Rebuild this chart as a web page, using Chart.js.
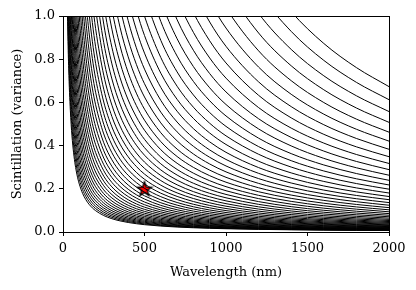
<!DOCTYPE html>
<html>
<head>
<meta charset="utf-8">
<script src="https://cdn.jsdelivr.net/npm/chart.js@4.4.1/dist/chart.umd.min.js"></script>
<style>
    html, body { margin: 0; padding: 0; background: #fff; }
    #wrap { width: 416px; height: 290px; }
</style>
</head>
<body>
<div id="wrap"><canvas id="scintChart" width="416" height="290"></canvas></div>
<script>
// wavelengths sampled along every curve (nm)
const wavelengths = [10, 15, 20, 25, 30, 35, 40, 50, 60, 70, 80, 90, 100, 120, 140, 160, 180, 200,
    250, 300, 350, 400, 450, 500, 600, 700, 800, 900, 1000, 1200, 1400, 1600, 1800, 2000];

// how high each curve sits compared with its value at 2000 nm
const relativeLevel = [483.7, 301.4, 215.4, 166.1, 134.2, 112.2, 95.97, 73.97, 59.80, 49.95, 42.75, 37.26,
    32.95, 26.64, 22.25, 19.04, 16.60, 14.68, 11.31, 9.146, 7.641, 6.539, 5.699, 5.040, 4.074, 3.403,
    2.913, 2.539, 2.245, 1.815, 1.516, 1.297, 1.131, 1.0];

// variance of each curve where it meets the right edge (2000 nm)
const levelsAt2000 = [0.00673, 0.00739, 0.00812, 0.00892, 0.00980, 0.01077, 0.01183, 0.01299, 0.01427, 0.01568,
    0.01723, 0.01892, 0.02079, 0.02283, 0.02508, 0.02756, 0.03027, 0.03325, 0.03653, 0.04013,
    0.04409, 0.04843, 0.05320, 0.05844, 0.06420, 0.07053, 0.07748, 0.08511, 0.09350, 0.1027,
    0.1128, 0.1240, 0.1362, 0.1496, 0.1643, 0.1805, 0.1983, 0.2178, 0.2393, 0.2629,
    0.2888, 0.3173, 0.3486, 0.3829, 0.4206, 0.4621, 0.5076, 0.5576, 0.6126, 0.673];

// the marked point
const markerWavelength = [500];
const markerVariance = [0.2];

const xTicks = [0, 500, 1000, 1500, 2000];
const yTicks = [0, 0.2, 0.4, 0.6, 0.8, 1.0];

const fontFamily = "'DejaVu Serif', serif";

// build a red star with black edge for the marker
function makeStar() {
    const size = 18;
    const c = document.createElement('canvas');
    c.width = size;
    c.height = size;
    const ctx = c.getContext('2d');
    const cx = size / 2;
    const cy = size / 2 + 0.6;
    const outer = 7.6;
    const inner = 3.1;
    ctx.beginPath();
    for (let i = 0; i < 10; i++) {
        const r = i % 2 === 0 ? outer : inner;
        const a = -Math.PI / 2 + i * Math.PI / 5;
        const px = cx + r * Math.cos(a);
        const py = cy + r * Math.sin(a);
        if (i === 0) ctx.moveTo(px, py); else ctx.lineTo(px, py);
    }
    ctx.closePath();
    ctx.fillStyle = '#ff0000';
    ctx.fill();
    ctx.lineWidth = 1.3;
    ctx.strokeStyle = '#000';
    ctx.lineJoin = 'miter';
    ctx.stroke();
    return c;
}

// one dataset per curve
function buildCurves() {
    return levelsAt2000.map(function (level) {
        return {
            type: 'line',
            data: wavelengths.map((w, i) => ({ x: w, y: level * relativeLevel[i] })),
            borderColor: '#000',
            borderWidth: 1,
            pointRadius: 0,
            fill: false,
            cubicInterpolationMode: 'monotone'
        };
    });
}

// box around the plot, like matplotlib spines
const framePlugin = {
    id: 'frame',
    afterDatasetsDraw(chart) {
        const a = chart.chartArea;
        const ctx = chart.ctx;
        ctx.save();
        ctx.strokeStyle = '#000';
        ctx.lineWidth = 1;
        ctx.strokeRect(Math.round(a.left) + 0.5, Math.round(a.top) + 0.5,
            Math.round(a.right - a.left), Math.round(a.bottom - a.top));
        ctx.restore();
    }
};

const datasets = buildCurves();
datasets.push({
    type: 'scatter',
    data: markerWavelength.map((w, i) => ({ x: w, y: markerVariance[i] })),
    pointStyle: makeStar(),
    pointRadius: 9,
    clip: false
});

const ctx = document.getElementById('scintChart').getContext('2d');
new Chart(ctx, {
    type: 'line',
    data: { datasets: datasets },
    options: {
        responsive: false,
        animation: false,
        events: [],
        layout: { padding: { left: 0, top: 16, right: 27, bottom: 0 } },
        plugins: {
            legend: { display: false },
            tooltip: { enabled: false }
        },
        scales: {
            x: {
                type: 'linear',
                min: 0,
                max: 2000,
                afterFit: (scale) => { scale.height = 58; },
                afterBuildTicks: (scale) => { scale.ticks = xTicks.map(v => ({ value: v })); },
                grid: { display: true, drawOnChartArea: false, drawTicks: true, tickLength: 4, color: '#000' },
                border: { display: true, color: '#000', width: 1 },
                ticks: {
                    color: '#000',
                    padding: 5,
                    maxRotation: 0,
                    font: { family: fontFamily, size: 13 },
                    callback: (v) => String(v)
                },
                title: {
                    display: true,
                    text: 'Wavelength (nm)',
                    color: '#000',
                    font: { family: fontFamily, size: 13, lineHeight: 1.2 },
                    padding: { top: 0, bottom: 10 }
                }
            },
            y: {
                type: 'linear',
                min: 0,
                max: 1,
                afterFit: (scale) => { scale.width = 63; },
                afterBuildTicks: (scale) => { scale.ticks = yTicks.map(v => ({ value: v })); },
                grid: { display: true, drawOnChartArea: false, drawTicks: true, tickLength: 4, color: '#000' },
                border: { display: true, color: '#000', width: 1 },
                ticks: {
                    color: '#000',
                    padding: 4,
                    font: { family: fontFamily, size: 13 },
                    callback: (v) => v.toFixed(1)
                },
                title: {
                    display: true,
                    text: 'Scintillation (variance)',
                    color: '#000',
                    font: { family: fontFamily, size: 13, lineHeight: 1.2 },
                    padding: { top: 10, bottom: 0 }
                }
            }
        }
    },
    plugins: [framePlugin]
});
</script>
</body>
</html>
